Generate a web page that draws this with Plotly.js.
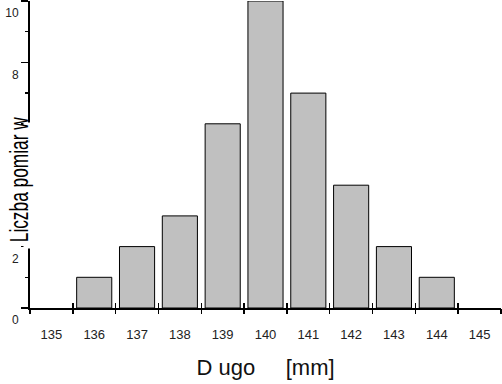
<!DOCTYPE html>
<html>
<head>
<meta charset="utf-8">
<script src="https://cdn.plot.ly/plotly-3.0.1.min.js"></script>
<style>html,body{margin:0;padding:0;background:#fff;}#chart{width:502px;height:384px;}</style>
</head>
<body>
<div id="chart"></div>
<script>
var categories = [135, 136, 137, 138, 139, 140, 141, 142, 143, 144, 145];
var counts = [0, 1, 2, 3, 6, 10, 7, 4, 2, 1, 0];
var binEdges = [134.5, 135.5, 136.5, 137.5, 138.5, 139.5, 140.5, 141.5, 142.5, 143.5, 144.5, 145.5];
var yTickVals = [0, 2, 4, 6, 8, 10];
var yTickText = ['0', '2', '', '', '8', '10'];
var xTitle = 'D ugo\u00A0\u00A0\u00A0\u00A0\u00A0[mm]';
var yTitle = 'Liczba pomiar w';

var trace = {
  type: 'bar',
  x: categories,
  y: counts,
  width: 0.82,
  marker: {color: '#c0c0c0', line: {color: '#000', width: counts.map(function (c) { return c > 0 ? 1 : 0; })}},
  hoverinfo: 'none'
};
var ghost2 = {type: 'scatter', x: [binEdges[0]], y: [0], xaxis: 'x2', mode: 'markers', marker: {opacity: 0}, hoverinfo: 'none'};
var ghost3 = {type: 'scatter', x: [binEdges[0]], y: [0], xaxis: 'x3', mode: 'markers', marker: {opacity: 0}, hoverinfo: 'none'};

var xr = [binEdges[0], binEdges[binEdges.length - 1]];
var layout = {
  width: 502, height: 384,
  margin: {l: 30, r: 1, t: 1, b: 76},
  paper_bgcolor: '#fff', plot_bgcolor: '#fff',
  showlegend: false,
  font: {family: 'Liberation Sans, Arial, sans-serif', color: '#222', size: 12},
  xaxis: {
    type: 'linear', range: xr, fixedrange: true,
    tickvals: categories, ticktext: categories.map(String),
    ticks: '', showgrid: false, zeroline: false,
    showline: true, linecolor: '#000', linewidth: 2,
    ticklabelstandoff: 13,
    tickfont: {size: 13, color: '#222'},
    title: {text: xTitle, font: {size: 22, color: '#111'}, standoff: 19}
  },
  xaxis2: {
    type: 'linear', range: xr, overlaying: 'x', anchor: 'y', side: 'bottom',
    tickvals: binEdges, ticks: 'outside', ticklen: 5, tickwidth: 1.5, tickcolor: '#000',
    showticklabels: false, showgrid: false, zeroline: false, showline: false
  },
  xaxis3: {
    type: 'linear', range: xr, overlaying: 'x', anchor: 'y', side: 'bottom',
    tickvals: binEdges, ticks: 'inside', ticklen: 5, tickwidth: 1.5, tickcolor: '#000',
    showticklabels: false, showgrid: false, zeroline: false, showline: false
  },
  yaxis: {
    range: [0, 10], fixedrange: true,
    tickvals: yTickVals, ticktext: yTickText,
    ticks: 'outside', ticklen: 7, tickwidth: 1.5, tickcolor: '#000',
    minor: {dtick: 1, ticks: 'outside', ticklen: 3, tickwidth: 1.5, tickcolor: '#000', showgrid: false},
    showgrid: false, zeroline: false,
    showline: true, linecolor: '#000', linewidth: 2,
    ticklabelshift: 12, ticklabeloverflow: 'allow',
    tickfont: {size: 12, color: '#222'}
  },
  annotations: [
    {
      xref: 'paper', yref: 'y', x: 0, y: 3.99, xshift: 0,
      xanchor: 'center', yanchor: 'middle', showarrow: false,
      text: '\u00A0', width: 12, height: 125, bgcolor: '#fff', borderpad: 0
    },
    {
      xref: 'paper', yref: 'y', x: 0, y: 4.2, xshift: -11,
      xanchor: 'center', yanchor: 'middle',
      textangle: -90, showarrow: false,
      text: yTitle,
      font: {family: 'Liberation Sans, Arial, sans-serif', size: 25, color: '#000'}
    }
  ]
};

Plotly.newPlot('chart', [trace, ghost2, ghost3], layout, {staticPlot: true, displayModeBar: false}).then(function (gd) {
  var anns = gd.querySelectorAll('.annotation');
  var t = anns[anns.length - 1].querySelector('text.annotation-text');
  if (t) {
    t.setAttribute('textLength', '125');
    t.setAttribute('lengthAdjust', 'spacingAndGlyphs');
  }
});
</script>
</body>
</html>
